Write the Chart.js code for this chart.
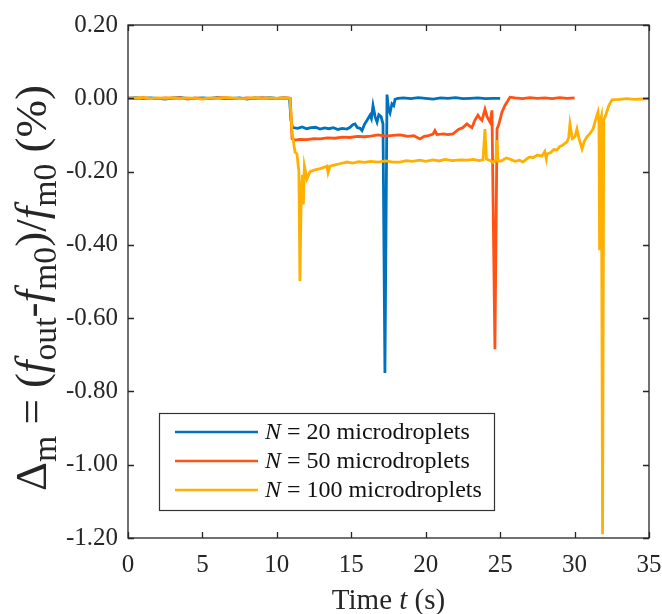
<!DOCTYPE html>
<html>
<head>
<meta charset="utf-8">
<script src="https://cdn.jsdelivr.net/npm/chart.js@4.4.0/dist/chart.umd.min.js"></script>
<style>
  body { margin: 0; background: #fff; }
  #wrap { width: 662px; height: 614px; }
</style>
</head>
<body>
<div id="wrap"><canvas id="chart" width="662" height="614"></canvas></div>
<script>
// données (temps en s, Delta_m en %)
const baseT = [0,0.5,1,1.5,2,2.5,3,3.5,4,4.5,5,5.5,6,6.5,7,7.5,8,8.5,9,9.5,10,10.5];

const t20 = baseT.concat([10.85,10.95,11.05,11.4,11.7,12.0,12.3,12.6,12.9,13.2,13.5,13.8,14.1,14.4,14.7,14.9,
  15.1,15.25,15.4,15.59,15.72,15.9,16.06,16.26,16.35,16.46,16.6,16.73,16.85,17.0,17.13,17.26,17.4,17.5,17.6,
  17.73,17.85,17.94,18.14,18.5,19,19.5,20,20.5,21,21.5,22,22.5,23,23.5,24,24.5,25]);
const dm20 = [0.000,0.002,-0.001,0.001,0.000,-0.002,0.001,0.002,0.000,-0.001,0.001,0.000,0.002,-0.001,0.000,0.001,
  -0.002,0.001,0.000,0.002,0.000,0.001,
  0.000,-0.060,-0.080,-0.082,-0.078,-0.083,-0.080,-0.079,-0.084,-0.081,-0.083,-0.080,-0.085,-0.082,-0.084,-0.080,
  -0.072,-0.070,-0.080,-0.082,-0.088,-0.070,-0.060,-0.046,-0.055,-0.020,-0.050,-0.065,-0.045,-0.050,-0.070,-0.750,
  0.010,-0.030,-0.040,-0.015,-0.020,-0.003,0.000,0.001,-0.001,0.002,0.000,-0.002,0.001,0.000,0.002,-0.001,0.000,
  0.001,-0.001,0.000,0.000];

const t50 = baseT.concat([10.9,11.02,11.22,11.55,12.0,12.5,12.9,13.4,13.9,14.4,14.9,15.4,15.9,16.3,16.8,17.3,17.8,
  18.27,18.8,19.2,19.62,19.9,20.2,20.49,20.62,20.75,21.2,21.5,21.83,22.2,22.5,22.77,23.0,23.11,23.3,23.51,23.65,
  23.78,23.98,24.12,24.32,24.45,24.65,24.79,24.92,25.12,25.33,25.5,25.66,26,26.5,27,27.5,28,28.5,29,29.5,30]);
const dm50 = [0.001,-0.001,0.002,0.000,-0.001,0.001,0.000,0.002,-0.002,0.001,0.000,-0.001,0.001,0.002,0.000,-0.001,
  0.001,0.000,0.002,-0.001,0.000,0.001,
  0.000,-0.110,-0.114,-0.112,-0.113,-0.110,-0.111,-0.108,-0.109,-0.106,-0.107,-0.104,-0.105,-0.103,-0.100,-0.103,
  -0.101,-0.100,-0.104,-0.102,-0.111,-0.104,-0.102,-0.098,-0.088,-0.099,-0.097,-0.099,-0.097,-0.085,-0.080,-0.070,
  -0.077,-0.080,-0.060,-0.046,-0.055,-0.060,-0.030,-0.050,-0.065,-0.033,-0.685,-0.084,-0.070,-0.038,-0.019,-0.008,
  0.003,0.001,-0.001,0.002,0.000,0.001,-0.001,0.002,0.000,0.001];

const t100 = baseT.concat([10.88,11.02,11.22,11.35,11.48,11.55,11.64,11.72,11.78,11.85,11.95,12.02,12.23,12.5,12.9,
  13.2,13.37,13.44,13.57,13.9,14.3,14.71,15.1,15.5,15.9,16.3,16.8,17.3,17.8,18.27,18.7,19.1,19.6,20.0,20.49,20.9,
  21.3,21.8,22.3,22.77,23.2,23.6,23.85,23.98,24.08,24.32,24.52,24.72,24.79,24.86,25.12,25.4,25.66,26.0,26.3,26.53,
  26.8,27.0,27.21,27.5,27.8,28.0,28.1,28.15,28.4,28.6,28.82,29.0,29.2,29.49,29.6,29.69,29.85,30.03,30.16,30.3,30.5,
  30.65,30.83,31.0,31.24,31.4,31.57,31.64,31.68,31.74,31.8,31.88,31.96,32.1,32.3,32.51,33,33.5,34,34.5,35]);
const dm100 = [0.000,0.001,0.002,-0.001,0.001,0.000,0.002,-0.001,0.001,0.000,-0.002,0.001,0.000,0.002,0.001,-0.001,
  0.000,0.002,-0.001,0.001,0.000,0.001,
  0.000,-0.092,-0.147,-0.152,-0.200,-0.499,-0.250,-0.209,-0.290,-0.185,-0.205,-0.220,-0.200,-0.196,-0.192,-0.188,
  -0.185,-0.203,-0.185,-0.182,-0.178,-0.174,-0.177,-0.173,-0.175,-0.172,-0.174,-0.171,-0.174,-0.174,-0.170,-0.172,
  -0.169,-0.172,-0.168,-0.171,-0.167,-0.170,-0.168,-0.169,-0.167,-0.170,-0.168,-0.084,-0.166,-0.170,-0.175,-0.168,
  -0.114,-0.172,-0.170,-0.163,-0.166,-0.172,-0.169,-0.174,-0.165,-0.160,-0.162,-0.155,-0.158,-0.145,-0.165,-0.152,
  -0.148,-0.140,-0.141,-0.132,-0.128,-0.119,-0.108,-0.070,-0.110,-0.105,-0.084,-0.110,-0.138,-0.118,-0.105,-0.098,
  -0.084,-0.060,-0.038,-0.065,-0.415,-0.060,-0.050,-1.190,-0.060,-0.045,-0.020,-0.004,-0.003,-0.001,-0.003,-0.002,
  -0.001];

const xTicks = [0, 5, 10, 15, 20, 25, 30, 35];
const yTicks = [0.2, 0, -0.2, -0.4, -0.6, -0.8, -1.0, -1.2];
const nValues = [20, 50, 100];
const colors = ['#0072BD', '#FF5213', '#FFB000'];

const serif = '"Liberation Serif", "Times New Roman", serif';
const axisColor = '#262626';

function toPoints(t, d) {
    return t.map((v, i) => ({ x: v, y: d[i] }));
}

// texte avec italique / indices
function segFont(s, size) {
    const sz = s.sub ? size * 0.75 : size;
    return (s.italic ? 'italic ' : '') + sz + 'px ' + serif;
}
function richWidth(ctx, segs, size) {
    let w = 0;
    segs.forEach(s => { ctx.font = segFont(s, size); w += ctx.measureText(s.text).width; });
    return w;
}
function drawRich(ctx, segs, size, x, y) {
    let cx = x;
    segs.forEach(s => {
        ctx.font = segFont(s, size);
        ctx.fillText(s.text, cx, s.sub ? y + size * 0.22 : y);
        cx += ctx.measureText(s.text).width;
    });
}

const yTitle = [
    { text: '\u0394' }, { text: 'm', sub: true }, { text: ' = (' },
    { text: 'f', italic: true }, { text: 'out', sub: true }, { text: '-' },
    { text: 'f', italic: true }, { text: 'm0', sub: true }, { text: ')/' },
    { text: 'f', italic: true }, { text: 'm0', sub: true }, { text: ' (%)' }
];
const xTitle = [{ text: 'Time ' }, { text: 't', italic: true }, { text: ' (s)' }];

const decorPlugin = {
    id: 'decor',
    afterDraw(chart) {
        const { ctx, chartArea: a, scales: { x, y } } = chart;
        ctx.save();
        // cadre et graduations vers l'intérieur
        ctx.strokeStyle = axisColor;
        ctx.lineWidth = 1.3;
        ctx.strokeRect(a.left, a.top, a.right - a.left, a.bottom - a.top);
        ctx.beginPath();
        xTicks.forEach(v => {
            const px = Math.round(x.getPixelForValue(v)) + 0.5;
            ctx.moveTo(px, a.bottom); ctx.lineTo(px, a.bottom - 6);
            ctx.moveTo(px, a.top); ctx.lineTo(px, a.top + 6);
        });
        yTicks.forEach(v => {
            const py = Math.round(y.getPixelForValue(v)) + 0.5;
            ctx.moveTo(a.left, py); ctx.lineTo(a.left + 6, py);
            ctx.moveTo(a.right, py); ctx.lineTo(a.right - 6, py);
        });
        ctx.stroke();

        // titres
        ctx.fillStyle = axisColor;
        ctx.textBaseline = 'alphabetic';
        ctx.textAlign = 'left';
        const xs = 29;
        drawRich(ctx, xTitle, xs, (a.left + a.right) / 2 - richWidth(ctx, xTitle, xs) / 2, 609);

        const ys = 45;
        ctx.save();
        ctx.translate(46, 288);
        ctx.rotate(-Math.PI / 2);
        drawRich(ctx, yTitle, ys, -richWidth(ctx, yTitle, ys) / 2, 0);
        ctx.restore();

        // légende
        const lx = 159, ly = 413, lw = 335, lh = 97;
        ctx.fillStyle = '#fff';
        ctx.fillRect(lx, ly, lw, lh);
        ctx.lineWidth = 1.2;
        ctx.strokeStyle = '#333';
        ctx.strokeRect(lx + 0.5, ly + 0.5, lw, lh);
        nValues.forEach((n, i) => {
            const ry = 432 + i * 29;
            ctx.strokeStyle = colors[i];
            ctx.lineWidth = 2.6;
            ctx.beginPath();
            ctx.moveTo(175, ry); ctx.lineTo(258, ry);
            ctx.stroke();
            ctx.fillStyle = '#111';
            ctx.textBaseline = 'middle';
            drawRich(ctx, [{ text: 'N', italic: true }, { text: ' = ' + n + ' microdroplets' }], 24, 265, ry + 1);
        });
        ctx.restore();
    }
};

const ctx = document.getElementById('chart').getContext('2d');
new Chart(ctx, {
    type: 'scatter',
    data: {
        datasets: nValues.map((n, i) => ({
            label: 'N = ' + n + ' microdroplets',
            data: toPoints([t20, t50, t100][i], [dm20, dm50, dm100][i]),
            borderColor: colors[i],
            backgroundColor: colors[i],
            showLine: true,
            pointRadius: 0,
            borderWidth: 2.8,
            tension: 0,
            order: 2 - i
        }))
    },
    options: {
        responsive: false,
        animation: false,
        layout: { padding: { left: 0, top: 22, right: 0, bottom: 0 } },
        plugins: { legend: { display: false }, tooltip: { enabled: false } },
        scales: {
            x: {
                type: 'linear', min: 0, max: 35,
                afterBuildTicks: s => { s.ticks = xTicks.map(v => ({ value: v })); },
                afterFit: s => { s.height = 76; s.paddingRight = 13; },
                grid: { display: false, drawTicks: false },
                border: { display: false },
                ticks: { padding: 12, color: axisColor, font: { family: serif, size: 25 }, maxRotation: 0,
                    callback: v => String(v) }
            },
            y: {
                type: 'linear', min: -1.2, max: 0.2,
                afterBuildTicks: s => { s.ticks = yTicks.map(v => ({ value: v })); },
                afterFit: s => { s.width = 128; },
                grid: { display: false, drawTicks: false },
                border: { display: false },
                ticks: { padding: 10, color: axisColor, font: { family: serif, size: 25 },
                    callback: v => v.toFixed(2) }
            }
        }
    },
    plugins: [decorPlugin]
});
</script>
</body>
</html>
